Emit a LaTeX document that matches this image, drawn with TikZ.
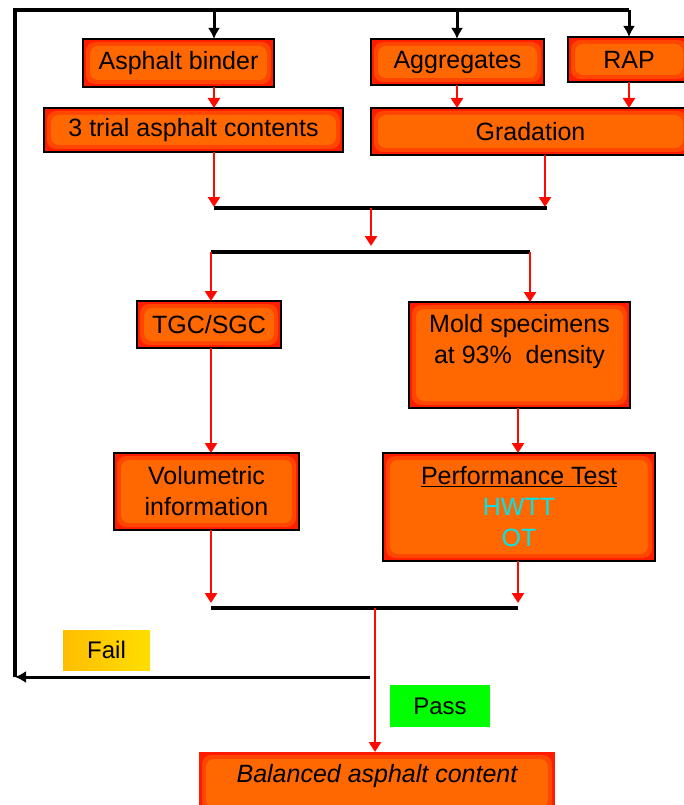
\documentclass[tikz,border=0pt]{standalone}
\usepackage{fontspec}
\setmainfont{Liberation Sans}
\usetikzlibrary{arrows.meta}
\definecolor{boxred}{RGB}{255,28,0}
\definecolor{boxmid}{RGB}{255,70,0}
\definecolor{boxorange}{RGB}{255,104,0}
\definecolor{testcyan}{RGB}{0,228,238}
\definecolor{linered}{RGB}{255,10,0}
\definecolor{failgold}{RGB}{255,190,0}
\definecolor{failyellow}{RGB}{255,222,0}
\definecolor{passgreen}{RGB}{0,255,0}
\tikzset{
  glowfill/.style={path picture={
    \fill[boxmid, rounded corners=9pt]
      ([shift={(3pt,3pt)}]path picture bounding box.south west) rectangle
      ([shift={(-3pt,-3pt)}]path picture bounding box.north east);
    \fill[boxorange, rounded corners=8pt]
      ([shift={(7pt,7pt)}]path picture bounding box.south west) rectangle
      ([shift={(-7pt,-7pt)}]path picture bounding box.north east);
  }},
  flowbox/.style={draw=black, line width=2pt, fill=boxred, glowfill,
    inner sep=0pt, outer sep=0pt, align=center,
    font=\fontsize{25}{31}\selectfont},
  boxtext/.style={inner sep=0pt, outer sep=0pt, align=center,
    font=\fontsize{25}{31}\selectfont},
  tagbox/.style={inner sep=0pt, outer sep=0pt, font=\fontsize{24}{28}\selectfont},
  blackline/.style={draw=black, line width=3.2pt},
  blackarrow/.style={draw=black, line width=3pt, -{Latex[width=12pt,length=11pt]}},
  redarrow/.style={draw=linered, line width=2.8pt, -{Triangle[width=12pt,length=10pt]}},
}
\begin{document}
\begin{tikzpicture}[x=1pt,y=-1pt]
\useasboundingbox (0,0) rectangle (684,805);

% boxes
\node[flowbox, minimum width=191pt, minimum height=48pt] (binder) at (178.5,63) {Asphalt binder};
\node[flowbox, minimum width=173pt, minimum height=46pt] (aggr) at (457.5,62) {Aggregates};
\node[flowbox, minimum width=122pt, minimum height=45pt] (rap) at (629,59.5) {RAP};
\node[flowbox, minimum width=299pt, minimum height=44pt] (trial) at (193.5,130) {3 trial asphalt contents};
\node[flowbox, minimum width=319pt, minimum height=47pt] (grad) at (530.5,131.5) {Gradation};
\node[flowbox, minimum width=144pt, minimum height=47pt] (tgc) at (209,324.5) {TGC/SGC};
\node[flowbox, minimum width=221pt, minimum height=106pt] (mold) at (519.5,355) {};
\node[boxtext] (moldtxt) at (519.5,342) {Mold specimens\\at 93\%\ \ density};
\node[flowbox, minimum width=185pt, minimum height=77pt] (vol) at (206.5,491.5) {Volumetric\\information};
\node[flowbox, minimum width=272pt, minimum height=108pt] (perf) at (519,507)
  {\underline{Performance Test}\\\textcolor{testcyan}{HWTT}\\\textcolor{testcyan}{OT}};
\node[flowbox, draw=none, minimum width=356pt, minimum height=63pt] (bal) at (377,783.5) {};
\node[boxtext] (baltxt) at (377,776) {\itshape Balanced asphalt content};

% labels
\node[tagbox, left color=failgold, right color=failyellow, minimum width=87pt, minimum height=40pt] (fail) at (106.5,650) {Fail};
\node[tagbox, fill=passgreen, minimum width=100pt, minimum height=42pt] (pass) at (440,706) {Pass};

% coordinates
\coordinate (topL) at (15,10);
\coordinate (fbL) at (15,677);
\coordinate (fbR) at (370,677);
\coordinate (tA) at (214,10);
\coordinate (tB) at (457,10);
\coordinate (tC) at (629,10);
\coordinate (b1L) at (214,208);
\coordinate (b1M) at (371,208);
\coordinate (b1R) at (545,208);
\coordinate (b1e) at (547,208);
\coordinate (b2L) at (211,252);
\coordinate (b2M) at (371,252);
\coordinate (b2R) at (530,252);
\coordinate (b3L) at (211,608);
\coordinate (b3M) at (375,608);
\coordinate (b3R) at (518,608);

% feedback loop (black)
\draw[blackline] (fbL) -- (topL) -- (tC);
\draw[blackarrow] (fbR) -- (fbL);
\draw[blackarrow] (tA) -- (tA |- binder.north);
\draw[blackarrow] (tB) -- (tB |- aggr.north);
\draw[blackarrow] (tC) -- (tC |- rap.north);

% red connectors, top part
\draw[redarrow] (tA |- binder.south) -- (tA |- trial.north);
\draw[redarrow] (tB |- aggr.south) -- (tB |- grad.north);
\draw[redarrow] (tC |- rap.south) -- (tC |- grad.north);
\draw[redarrow, shorten >=1pt] (b1L |- trial.south) -- (b1L);
\draw[redarrow, shorten >=1pt] (b1R |- grad.south) -- (b1R);
\draw[blackline] (b1L) -- (b1e);
\draw[redarrow, shorten >=6pt] (b1M) -- (b2M);
\draw[blackline] (b2L) -- (b2R);
\draw[redarrow] (b2L) -- (b2L |- tgc.north);
\draw[redarrow] (b2R) -- (b2R |- mold.north);

% middle
\draw[redarrow] (tgc.south -| b2L) -- (vol.north -| b2L);
\draw[redarrow] (mold.south -| b3R) -- (perf.north -| b3R);
\draw[redarrow, shorten >=5pt] (vol.south -| b3L) -- (b3L);
\draw[redarrow, shorten >=5pt] (perf.south -| b3R) -- (b3R);
\draw[blackline] (b3L) -- (b3R);
\draw[redarrow] (b3M) -- (b3M |- bal.north);
\end{tikzpicture}
\end{document}
